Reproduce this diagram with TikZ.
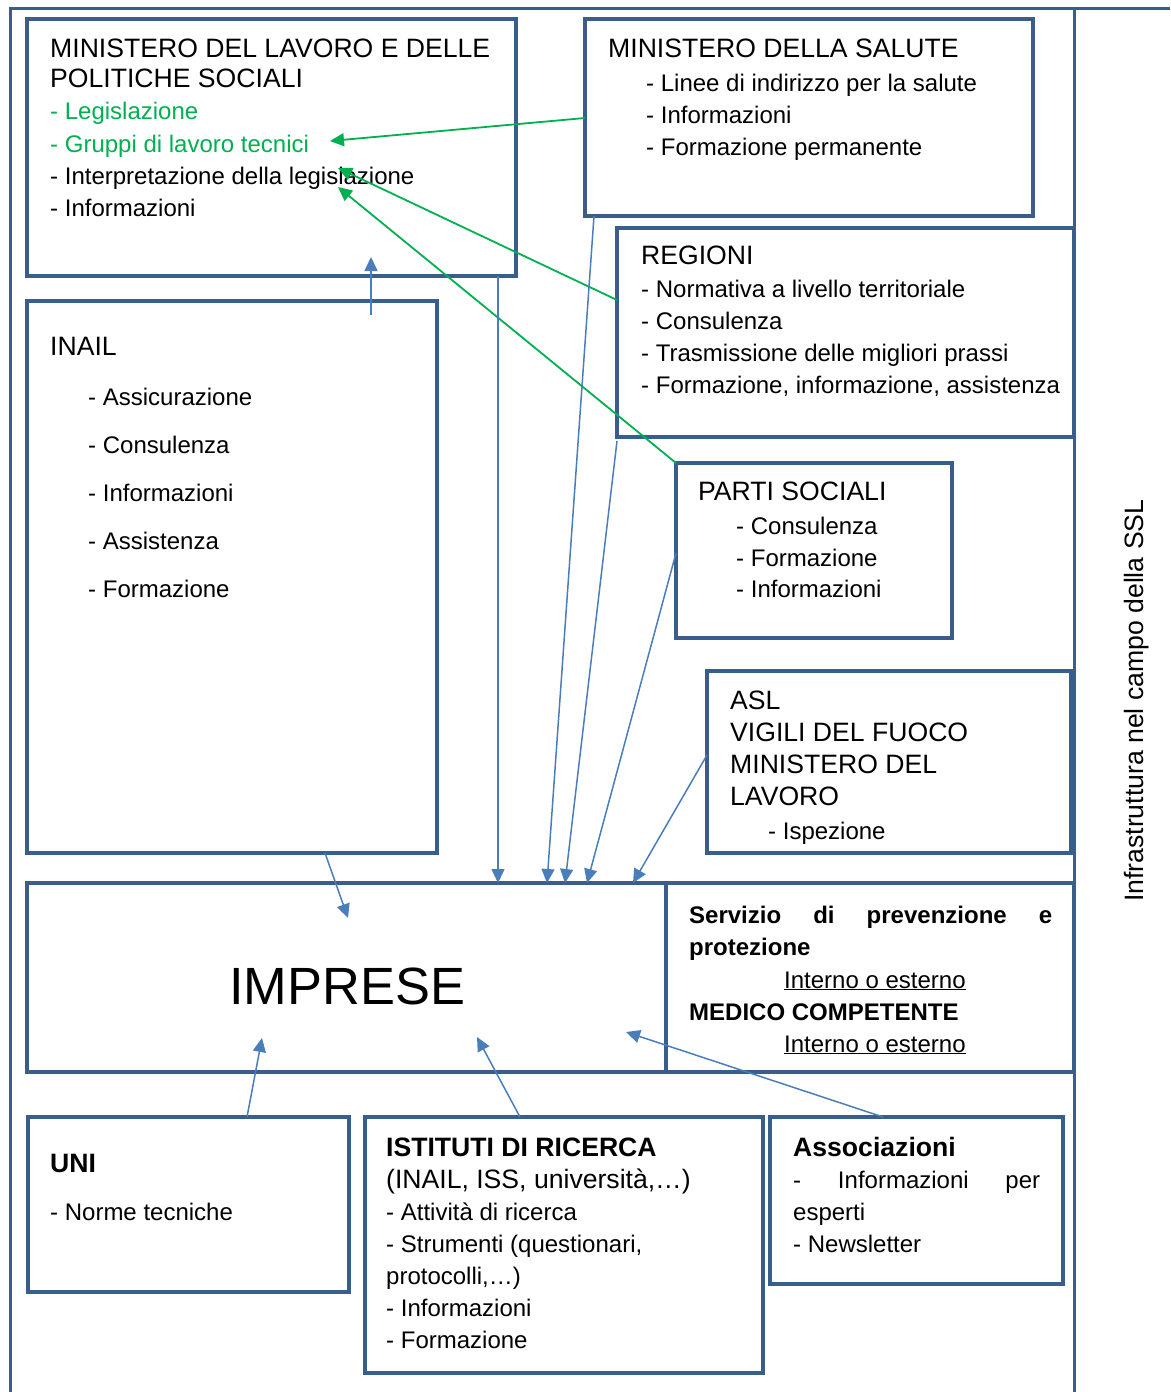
\documentclass[tikz,border=0pt]{standalone}
\usepackage{fontspec}
\setmainfont{Liberation Sans}
\usetikzlibrary{arrows.meta}
\definecolor{boxblue}{HTML}{3A5E8C}
\definecolor{arrblue}{HTML}{4A7EBB}
\definecolor{arrgreen}{HTML}{00B050}
\tikzset{
  box/.style={draw=boxblue, line width=4pt, inner sep=0pt, outer sep=0pt, anchor=north west},
  frame/.style={draw=boxblue, line width=3pt},
  ttl/.style={anchor=base west, inner sep=0pt, font=\fontsize{26.6}{32}\selectfont},
  btl/.style={anchor=base west, inner sep=0pt, font=\fontsize{26.6}{32}\selectfont\bfseries},
  itm/.style={anchor=base west, inner sep=0pt, font=\fontsize{24}{32}\selectfont},
  bitm/.style={anchor=base west, inner sep=0pt, font=\fontsize{24}{32}\selectfont\bfseries},
  garr/.style={draw=arrgreen, line width=1.8pt, -{Triangle[length=14pt,width=13pt]}},
  barr/.style={draw=arrblue, line width=1.5pt, -{Triangle[length=14pt,width=13pt]}},
}
\begin{document}
\begin{tikzpicture}[x=1pt,y=-1pt]
\useasboundingbox (0,0) rectangle (1170,1392);
% outer frame
\draw[frame] (10,1392) -- (10,8) -- (1170,8);
\draw[frame] (1074,8) -- (1074,1392);
% boxes
\node[box, minimum width=489pt, minimum height=257pt] (ml) at (27,19) {};
\node[box, minimum width=448pt, minimum height=197pt] (ms) at (585,19) {};
\node[box, minimum width=457pt, minimum height=209pt] (rg) at (617,228) {};
\node[box, minimum width=276pt, minimum height=175pt] (ps) at (676,463) {};
\node[box, minimum width=364pt, minimum height=182pt] (as) at (707,671) {};
\node[box, minimum width=410pt, minimum height=552pt] (in) at (27,301) {};
\node[box, minimum width=639pt, minimum height=189pt] (im) at (27,883) {};
\node[box, minimum width=408pt, minimum height=189pt] (sp) at (666,883) {};
\node[box, minimum width=321pt, minimum height=175pt] (un) at (28,1117) {};
\node[box, minimum width=398pt, minimum height=256pt] (is) at (365,1117) {};
\node[box, minimum width=293pt, minimum height=167pt] (asc) at (770,1117) {};
% Ministero del lavoro
\node[ttl] (t1) at (50,57) {MINISTERO DEL LAVORO E DELLE};
\node[ttl] (t2) at (50,87) {POLITICHE SOCIALI};
\node[itm, text=arrgreen] (t3) at (50,119) {- Legislazione};
\node[itm, text=arrgreen] (t4) at (50,152) {- Gruppi di lavoro tecnici};
\node[itm] (t5) at (50,184) {- Interpretazione della legislazione};
\node[itm] (t6) at (50,216) {- Informazioni};
% Ministero della salute
\node[ttl] (t7) at (608,57) {MINISTERO DELLA SALUTE};
\node[itm] (t8) at (646,91) {- Linee di indirizzo per la salute};
\node[itm] (t9) at (646,123) {- Informazioni};
\node[itm] (t10) at (646,155) {- Formazione permanente};
% Regioni
\node[ttl] (t11) at (641,264) {REGIONI};
\node[itm] (t12) at (641,297) {- Normativa a livello territoriale};
\node[itm] (t13) at (641,329) {- Consulenza};
\node[itm] (t14) at (641,361) {- Trasmissione delle migliori prassi};
\node[itm] (t15) at (641,393) {- Formazione, informazione, assistenza};
% Parti sociali
\node[ttl] (t16) at (698,500) {PARTI SOCIALI};
\node[itm] (t17) at (736,534) {- Consulenza};
\node[itm] (t18) at (736,566) {- Formazione};
\node[itm] (t19) at (736,597) {- Informazioni};
% ASL
\node[ttl] (t20) at (730,709) {ASL};
\node[ttl] (t21) at (730,741) {VIGILI DEL FUOCO};
\node[ttl] (t22) at (730,773) {MINISTERO DEL};
\node[ttl] (t23) at (730,805) {LAVORO};
\node[itm] (t24) at (768,839) {- Ispezione};
% INAIL
\node[ttl] (t25) at (50,355) {INAIL};
\node[itm] (t26) at (88,405) {- Assicurazione};
\node[itm] (t27) at (88,453) {- Consulenza};
\node[itm] (t28) at (88,501) {- Informazioni};
\node[itm] (t29) at (88,549) {- Assistenza};
\node[itm] (t30) at (88,597) {- Formazione};
% Imprese
\node[anchor=base west, inner sep=0pt, font=\fontsize{52.4}{60}\selectfont] (t31) at (229,1004) {IMPRESE};
% Servizio panel
\node[bitm] (t32) at (689,923) {\makebox[363pt][l]{Servizio\hfill di\hfill prevenzione\hfill e}};
\node[bitm] (t33) at (689,955) {protezione};
\node[itm] (t34) at (784,988) {\underline{Interno o esterno}};
\node[bitm] (t35) at (689,1020) {MEDICO COMPETENTE};
\node[itm] (t36) at (784,1052) {\underline{Interno o esterno}};
% UNI
\node[btl] (t37) at (50,1172) {UNI};
\node[itm] (t38) at (50,1220) {- Norme tecniche};
% Istituti
\node[btl] (t39) at (386,1156) {ISTITUTI DI RICERCA};
\node[ttl] (t40) at (386,1188) {(INAIL, ISS, università,…)};
\node[itm] (t41) at (386,1220) {- Attività di ricerca};
\node[itm] (t42) at (386,1252) {- Strumenti (questionari,};
\node[itm] (t43) at (386,1284) {protocolli,…)};
\node[itm] (t44) at (386,1316) {- Informazioni};
\node[itm] (t45) at (386,1348) {- Formazione};
% Associazioni
\node[btl] (t46) at (793,1156) {Associazioni};
\node[itm] (t47) at (793,1188) {\makebox[247pt][l]{-\hfill Informazioni\hfill per}};
\node[itm] (t48) at (793,1220) {esperti};
\node[itm] (t49) at (793,1252) {- Newsletter};
% side label
\node[ttl, rotate=90] (t50) at (1143,902) {Infrastruttura nel campo della SSL};
% green arrows
\draw[garr] ([yshift=-99pt]ms.north west) -- ([xshift=303pt,yshift=-122pt]ml.north west);
\draw[garr] ([yshift=-72pt]rg.north west) -- ([xshift=311pt,yshift=-149pt]ml.north west);
\draw[garr] (ps.north west) -- ([xshift=311pt,yshift=-168pt]ml.north west);
% blue arrows
\draw[barr] ([xshift=344pt,yshift=-14pt]in.north west) -- ([xshift=344pt,yshift=19pt]ml.south west);
\draw[barr] ([xshift=471pt]ml.south west) -- ([xshift=471pt]im.north west);
\draw[barr] ([xshift=9pt]ms.south west) -- ([xshift=520pt]im.north west);
\draw[barr] ([yshift=-4pt]rg.south west) -- ([xshift=538pt]im.north west);
\draw[barr] ([yshift=-90pt]ps.north west) -- ([xshift=560pt]im.north west);
\draw[barr] ([yshift=-84pt]as.north west) -- ([xshift=606pt]im.north west);
\draw[barr] ([xshift=298pt]in.south west) -- ([xshift=321pt,yshift=-35pt]im.north west);
\draw[barr] ([xshift=219pt]un.north west) -- ([xshift=235pt,yshift=34pt]im.south west);
\draw[barr] ([xshift=155pt]is.north west) -- ([xshift=450pt,yshift=35pt]im.south west);
\draw[barr] ([xshift=113pt]asc.north west) -- ([xshift=599pt,yshift=40pt]im.south west);
\end{tikzpicture}
\end{document}
